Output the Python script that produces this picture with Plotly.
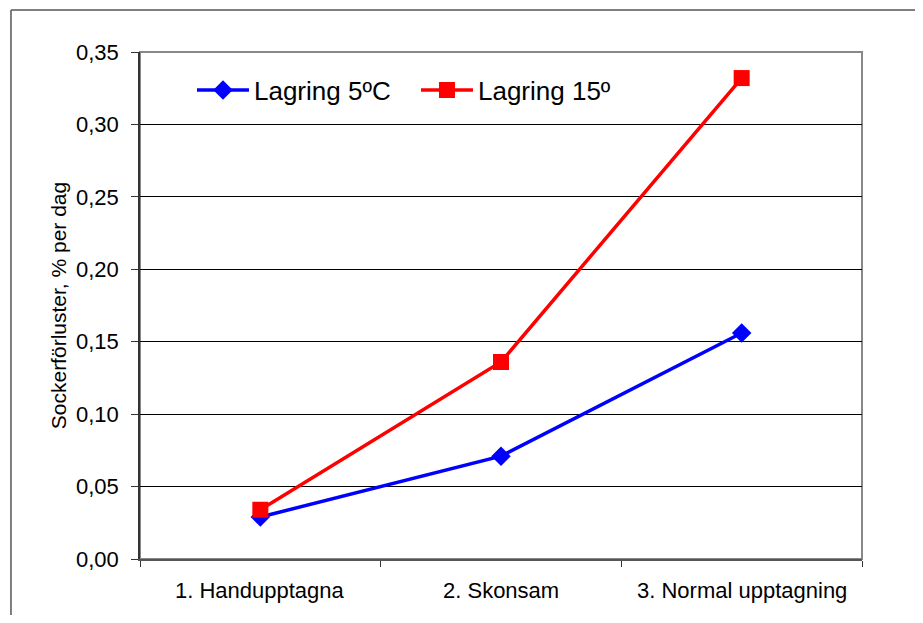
import plotly.graph_objects as go

categories = ["1. Handupptagna", "2. Skonsam", "3. Normal upptagning"]
lagring_5 = [0.029, 0.071, 0.156]
lagring_15 = [0.034, 0.136, 0.332]
y_ticks = [0.0, 0.05, 0.10, 0.15, 0.20, 0.25, 0.30, 0.35]

fig = go.Figure()
fig.add_trace(go.Scatter(
    x=categories, y=lagring_5, name="Lagring 5ºC", mode="lines+markers",
    line=dict(color="#0000FF", width=3.5),
    marker=dict(symbol="diamond", size=15, color="#0000FF"),
))
fig.add_trace(go.Scatter(
    x=categories, y=lagring_15, name="Lagring 15º", mode="lines+markers",
    line=dict(color="#FF0000", width=3.5),
    marker=dict(symbol="square", size=16, color="#FF0000"),
))

font = "Liberation Sans, Arial, sans-serif"
fig.update_layout(
    width=907, height=607,
    margin=dict(l=132, r=53, t=44, b=56),
    paper_bgcolor="white", plot_bgcolor="white",
    separators=", ",
    font=dict(family=font, color="black"),
    showlegend=True,
    legend=dict(orientation="h", x=0.072, y=0.925, xanchor="left", yanchor="middle",
                font=dict(size=26, family=font), bgcolor="rgba(0,0,0,0)",
                itemwidth=52, tracegroupgap=0, entrywidth=157),
    xaxis=dict(
        type="category", range=[-0.5, 2.5],
        showgrid=False, showline=True, linecolor="#555", linewidth=1.5,
        ticks="outside", ticklen=6, tickcolor="#333",
        tickmode="array", tickvals=[-0.5, 0.5, 1.5, 2.5], ticktext=["", "", "", ""],
        fixedrange=True,
    ),
    yaxis=dict(
        range=[0, 0.35], tickvals=y_ticks, tickformat=".2f",
        showgrid=True, gridcolor="black", gridwidth=1,
        showline=True, linecolor="#333", linewidth=1.5,
        ticks="outside", ticklen=7, tickcolor="#333",
        tickfont=dict(size=22), zeroline=False, ticklabelstandoff=8,
        title=dict(text="Sockerförluster, % per dag", font=dict(size=21), standoff=4),
    ),
    shapes=[
        dict(type="rect", xref="paper", yref="paper", x0=0, x1=1, y0=0, y1=1,
             line=dict(color="#888", width=2), layer="below"),
        dict(type="line", xref="paper", yref="paper", x0=-0.1787, x1=-0.1787, y0=-0.2, y1=1.0828,
             line=dict(color="#555", width=1.5), layer="below"),
        dict(type="line", xref="paper", yref="paper", x0=-0.1787, x1=1.2, y0=1.0828, y1=1.0828,
             line=dict(color="#555", width=1.5), layer="below"),
    ],
)

# category labels centered between ticks
for i, c in enumerate(categories):
    fig.add_annotation(x=i, y=0, xref="x", yref="paper", yshift=-31, yanchor="middle",
                       text=c, showarrow=False, font=dict(size=22, family=font))

fig.write_html("out.html")
